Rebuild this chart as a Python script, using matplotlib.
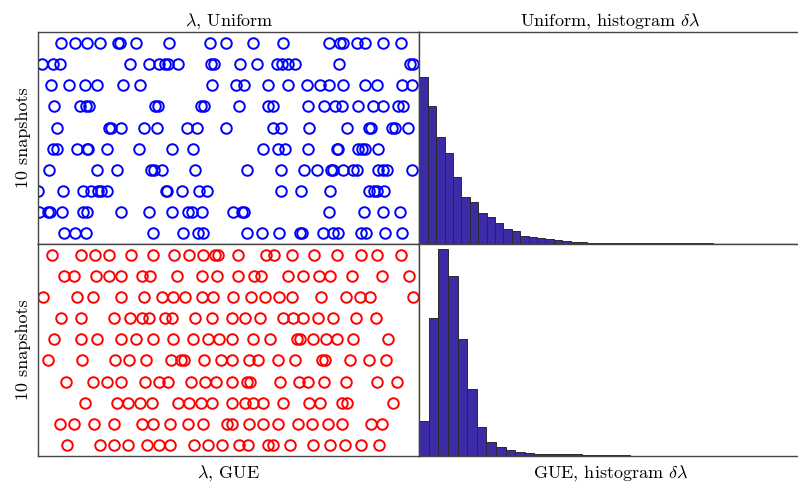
import numpy as np
import matplotlib
matplotlib.use('Agg')
import matplotlib.pyplot as plt

# ---- eigenvalue snapshots (position along lambda axis), row 1 = bottom ---- #
uni_rows = [
    [26, 37, 48, 115, 145, 160, 165, 209, 224, 241, 262, 264, 285, 295, 300, 323, 328, 347, 364],
    [1, 10, 12, 24, 45, 49, 83, 111, 134, 150, 154, 164, 195, 204, 206, 291, 326, 345, 362],
    [0, 25, 45, 53, 60, 63, 69, 128, 129, 144, 161, 169, 243, 263, 292, 331, 336, 339, 346],
    [11, 59, 79, 113, 116, 124, 157, 209, 243, 266, 279, 293, 295, 305, 315, 319, 340, 345, 349, 374],
    [15, 19, 39, 49, 50, 69, 101, 134, 155, 225, 240, 247, 270, 299, 300, 320, 324, 327, 340],
    [19, 71, 73, 83, 106, 119, 149, 159, 188, 235, 243, 271, 309, 331, 333, 354, 357, 370],
    [16, 42, 48, 51, 117, 120, 163, 166, 201, 230, 235, 270, 286, 297, 304, 320, 335, 345, 360, 365],
    [13, 31, 47, 59, 85, 102, 174, 198, 206, 230, 250, 269, 282, 291, 305, 327, 339, 364, 374],
    [4, 15, 22, 92, 111, 121, 127, 130, 140, 173, 176, 202, 219, 239, 244, 250, 257, 301, 372, 375],
    [23, 37, 49, 62, 80, 82, 98, 131, 172, 188, 215, 245, 291, 302, 305, 319, 327, 345, 363],
]
gue_rows = [
    [29, 62, 76, 90, 109, 121, 132, 156, 170, 184, 201, 210, 230, 235, 252, 275, 292, 307, 323, 341],
    [22, 36, 56, 76, 104, 115, 132, 150, 165, 189, 194, 211, 225, 240, 260, 274, 290, 304, 333, 344],
    [47, 79, 90, 102, 114, 140, 151, 163, 174, 194, 207, 215, 225, 245, 271, 282, 304, 309, 355],
    [28, 55, 69, 83, 107, 121, 130, 153, 167, 178, 194, 209, 212, 242, 261, 270, 286, 308, 339, 359],
    [10, 44, 77, 91, 108, 133, 143, 146, 166, 183, 194, 211, 220, 240, 257, 284, 287, 312, 331, 348],
    [16, 43, 59, 83, 98, 115, 135, 155, 170, 181, 194, 215, 232, 259, 262, 275, 288, 299, 315, 350],
    [23, 43, 76, 92, 104, 111, 127, 134, 157, 174, 194, 207, 222, 245, 255, 265, 280, 295, 318, 338],
    [5, 39, 55, 83, 106, 124, 135, 147, 164, 175, 195, 213, 227, 241, 254, 283, 308, 322, 332, 375],
    [26, 36, 58, 71, 83, 104, 112, 139, 164, 179, 200, 216, 223, 250, 265, 281, 292, 314, 344, 371],
    [14, 43, 57, 71, 93, 115, 136, 151, 165, 177, 180, 200, 228, 236, 254, 276, 299, 323, 339, 363],
]

# ---- spacing histograms (counts per bin) ---- #
uni_width = 0.022
uni_counts = [167, 138, 107, 91, 67, 47, 42, 31, 27, 21, 15, 13, 8, 7, 5.7, 4.7, 4, 3, 2.3, 2.3,
              1.5, 1.3, 1.2, 1.2, 1.1, 1.0, 1.0, 0.9, 0.9, 0.8, 0.8, 0.7, 0.7, 0.6, 0.6, 0.5,
              0.5, 0.5, 0.4, 0.4]
gue_width = 0.0251
gue_counts = [35, 138, 207, 180, 117, 67, 29, 14, 9, 5.7, 4, 2.4, 2, 1.7, 2, 1.3, 1.3,
              0.7, 0.6, 0.8, 0.7, 0.5]

plt.rcParams['font.family'] = 'cmr10'
plt.rcParams['mathtext.fontset'] = 'cm'
plt.rcParams['axes.unicode_minus'] = False

W, H = 798, 483
fig = plt.figure(figsize=(W/100, H/100), dpi=100)

def rect(x0, y0, x1, y1):
    return [x0/W, 1 - y1/H, (x1 - x0)/W, (y1 - y0)/H]

axA = fig.add_axes(rect(38.3, 32.3, 419.3, 244))
axB = fig.add_axes(rect(38.3, 244, 419.3, 455.7))
axC = fig.add_axes(rect(419.3, 32.3, 801.3, 244))
axD = fig.add_axes(rect(419.3, 244, 801.3, 455.7))

for ax, rows, col in [(axA, uni_rows, '#0000ff'), (axB, gue_rows, '#ff0000')]:
    for ii, r in enumerate(rows):
        ax.plot(r, np.full(len(r), ii + 1), 'o', mfc='none', mec=col, ms=7.6, mew=1.4)
    ax.set_xlim([0.3, 381.3])
    ax.set_ylim([0.5, 10.5])
    ax.set_ylabel('10 snapshots', fontsize=13, labelpad=5)

for ax, cnt, w in [(axC, uni_counts, uni_width), (axD, gue_counts, gue_width)]:
    edges = np.arange(len(cnt))*w
    ax.bar(edges, cnt, width=w, align='edge', color='#3b2ba6', edgecolor='#2a2a2a', linewidth=0.7)
    ax.set_xlim([0, 1])
axC.set_ylim([0, 211.7])
axD.set_ylim([0, 211.7])

for ax in [axA, axB, axC, axD]:
    ax.set_xticks([])
    ax.set_yticks([])
    for s in ax.spines.values():
        s.set_color('#444444')
        s.set_linewidth(1.0)

axA.set_title(r'$\lambda$, Uniform', fontsize=13, pad=5)
axC.set_title(r'Uniform, histogram $\delta\lambda$', fontsize=13, pad=5)
axB.set_xlabel(r'$\lambda$, GUE', fontsize=13, labelpad=5)
axD.set_xlabel(r'GUE, histogram $\delta\lambda$', fontsize=13, labelpad=5)

fig.savefig('out.png', dpi=100)
